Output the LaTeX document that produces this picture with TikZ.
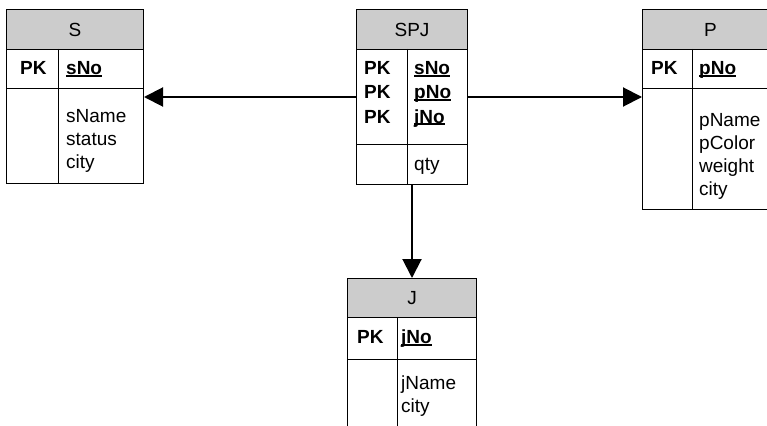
\documentclass[tikz,border=0pt]{standalone}
\usepackage{fontspec}
\setmainfont{Liberation Sans}
\usetikzlibrary{arrows.meta}
\definecolor{hdrgray}{RGB}{204,204,204}
\newcommand\keyattr[1]{\setbox0\hbox{#1}\rlap{\rule[-2.5pt]{\wd0}{2pt}}\box0}

\begin{document}
\begin{tikzpicture}[x=1pt,y=-1pt,
  box/.style={draw=black,line width=1pt,inner sep=0pt,anchor=north west},
  head/.style={box,fill=hdrgray,font=\fontsize{19}{23}\selectfont},
  pk/.style={anchor=base west,inner sep=0pt,font=\fontsize{19}{23}\selectfont\bfseries},
  attr/.style={anchor=base west,inner sep=0pt,font=\fontsize{19}{23}\selectfont},
  fk/.style={line width=2pt,-{Triangle[length=19pt,width=19pt]}}]
\useasboundingbox (0,0) rectangle (767,425);
% S
\node[box,minimum width=137pt,minimum height=174pt](S) at (6,9){};
\node[head,minimum width=137pt,minimum height=40pt](Shead) at (6,9){S};
\draw[line width=1pt](6,89)--(143,89);
\draw[line width=1pt](58,49)--(58,183);
\node[pk](Spk) at (20,75){PK};
\node[pk](SsNo) at (66,75){\keyattr{sNo}};
\node[attr](SsName) at (66,122){sName};
\node[attr](Sstatus) at (66,145){status};
\node[attr](Scity) at (66,168){city};
% SPJ
\node[box,minimum width=111pt,minimum height=175pt](SPJ) at (356,9){};
\node[head,minimum width=111pt,minimum height=40pt](SPJhead) at (356,9){SPJ};
\draw[line width=1pt](356,144)--(467,144);
\draw[line width=1pt](407,49)--(407,184);
\node[pk](SPJpk1) at (364,75){PK};
\node[pk](SPJpk2) at (364,99){PK};
\node[pk](SPJpk3) at (364,123){PK};
\node[pk](SPJsNo) at (414,75){\keyattr{sNo}};
\node[pk](SPJpNo) at (414,99){\keyattr{pNo}};
\node[pk](SPJjNo) at (414,123){\keyattr{jNo}};
\node[attr](SPJqty) at (414,170){qty};
% P
\node[box,minimum width=136pt,minimum height=200pt](P) at (642,9){};
\node[head,minimum width=136pt,minimum height=40pt](Phead) at (642,9){P};
\draw[line width=1pt](642,89)--(778,89);
\draw[line width=1pt](692,49)--(692,209);
\node[pk](Ppk) at (651,75){PK};
\node[pk](PpNo) at (699,75){\keyattr{pNo}};
\node[attr](PpName) at (699,126){pName};
\node[attr](PpColor) at (699,149){pColor};
\node[attr](Pweight) at (699,172){weight};
\node[attr](Pcity) at (699,195){city};
% J
\node[box,minimum width=129pt,minimum height=165pt](J) at (347,278){};
\node[head,minimum width=129pt,minimum height=39pt](Jhead) at (347,278){J};
\draw[line width=1pt](347,359)--(476,359);
\draw[line width=1pt](397,317)--(397,443);
\node[pk](Jpk) at (357,343){PK};
\node[pk](JjNo) at (401,343){\keyattr{jNo}};
\node[attr](JjName) at (401,389){jName};
\node[attr](Jcity) at (401,412){city};
% references
\draw[fk](SPJ.west)--(SPJ.west -| S.east);
\draw[fk](SPJ.east)--(SPJ.east -| P.west);
\draw[fk](SPJ.south)--(J.north);
\end{tikzpicture}
\end{document}
